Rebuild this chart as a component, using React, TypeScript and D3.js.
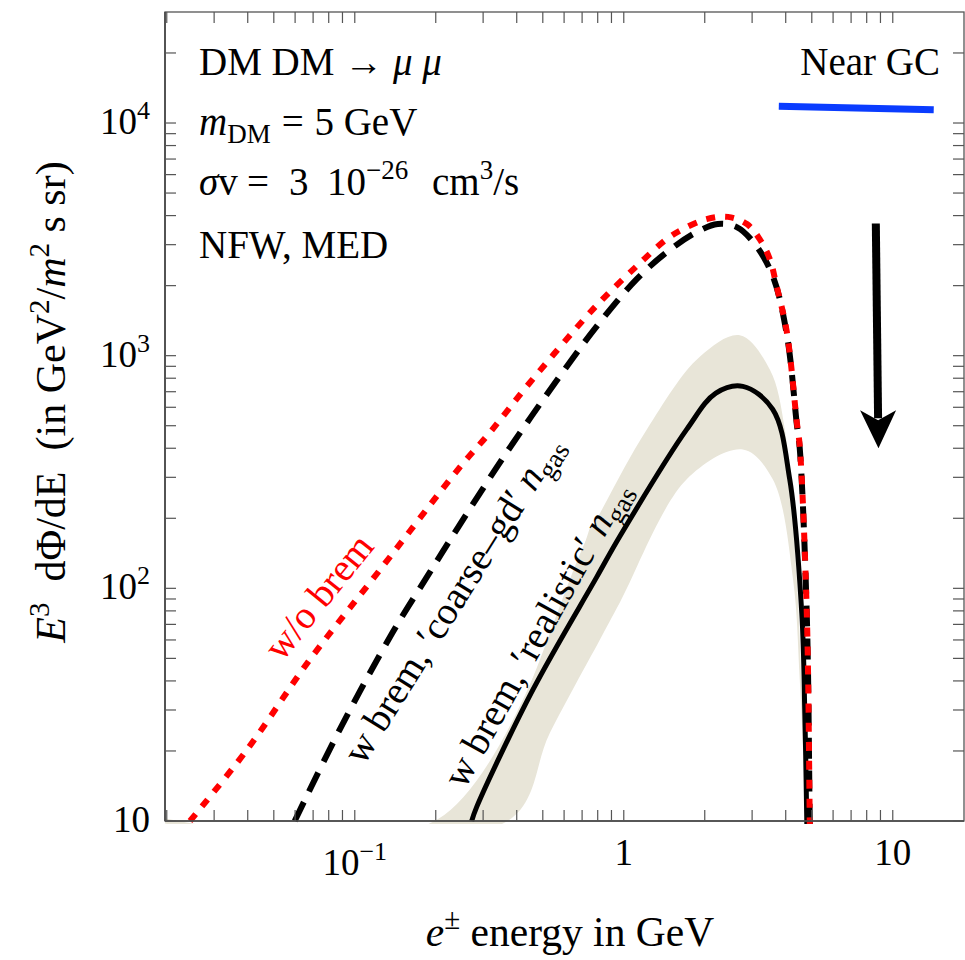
import React from "react";
import * as d3 from "d3";

// ---- chart data ----
const xDomain = [0.0197, 18.4];
const yDomain = [10, 30000];

const xLabelTicks = [0.1, 1, 10];
const xLabelText = [["10", "−1"], ["1", ""], ["10", ""]];
const yLabelTicks = [10, 100, 1000, 10000];
const yLabelText = [["10", ""], ["10", "2"], ["10", "3"], ["10", "4"]];

// w/o bremsstrahlung (red dotted)
const woBremE = [0.0244, 0.0397, 0.068, 0.124, 0.2455, 0.318, 0.448, 0.729, 0.835, 1.117, 1.445, 1.66, 2.03, 2.44, 2.87, 3.2, 3.49, 3.7, 4.04, 4.4, 4.51, 4.79, 4.91, 4.97];
const woBremV = [10, 20.2, 49.3, 120, 331, 468, 767, 1480, 1750, 2427, 3170, 3500, 3860, 3950, 3680, 3170, 2600, 1990, 1260, 516, 408, 78.5, 10.8, 3];

// with brem, coarse-grained gas (black dashed)
const coarseE = [0.0598, 0.0879, 0.138, 0.19, 0.2415, 0.367, 0.614, 0.814, 1.117, 1.445, 1.87, 2.235, 2.63, 3.07, 3.58, 4.04, 4.4, 4.51, 4.79, 4.91, 4.97];
const coarseV = [10, 24.7, 64.4, 117, 182, 384, 899, 1390, 2133, 2786, 3400, 3680, 3570, 3020, 2200, 1230, 505, 400, 77, 10.5, 3];

// with brem, realistic gas (black solid)
const realE = [0.272, 0.284, 0.459, 0.794, 0.966, 1.714, 2.2, 2.77, 3.58, 4.14, 4.59, 4.71, 4.79, 4.82];
const realV = [10, 11.5, 36.6, 112, 167, 482, 690, 738, 588, 294, 78, 29, 10, 5];

// uncertainty band around the realistic curve
const bandUpE = [0.0197, 0.207, 0.767, 1.218, 1.917, 2.7, 3.49, 3.97, 4.4, 4.6, 4.79, 4.82];
const bandUpV = [10, 10, 184, 482, 990, 1225, 873, 482, 109, 33, 10, 5];
const bandLoE = [0.0197, 0.37, 0.531, 0.814, 0.966, 1.714, 2.77, 3.58, 4.26, 4.51, 4.75, 4.8];
const bandLoV = [10, 10, 23.9, 60, 86.7, 294, 395, 294, 109, 40.5, 10, 5];

// "Near GC" reference segment
const nearGcE = [3.77, 14.2];
const nearGcV = [11800, 11400];

// downward arrow
const arrowE = [8.65, 8.85];
const arrowV = [3700, 400];

const W = 965;
const H = 960;
const M = { left: 165, right: 964, top: 12, bottom: 821 };
const SERIF = "'Liberation Serif', 'Times New Roman', Times, serif";

const pts = (E: number[], V: number[]) => E.map((e, i) => [e, V[i]] as [number, number]);

export default function App() {
  const x = d3.scaleLog().domain(xDomain).range([M.left, M.right]);
  const y = d3.scaleLog().domain(yDomain).range([M.bottom, M.top]);

  const smooth = d3.curveCatmullRom.alpha(0.5);
  const line = d3
    .line<[number, number]>()
    .x((d) => x(d[0]))
    .y((d) => y(d[1]))
    .curve(smooth);
  const area = d3
    .area<[number, number]>()
    .x((d) => x(d[0]))
    .y0(M.bottom + 3)
    .y1((d) => y(d[1]))
    .curve(smooth);

  // ticks at 1..9 per decade inside the domain
  const logTicks = (lo: number, hi: number) => {
    const out: number[] = [];
    for (let k = Math.floor(Math.log10(lo)); k <= Math.ceil(Math.log10(hi)); k++) {
      for (let m = 1; m <= 9; m++) {
        const v = m * Math.pow(10, k);
        if (v >= lo * 1.0001 && v <= hi * 0.9999) out.push(v);
      }
    }
    return out;
  };
  const xt = logTicks(xDomain[0], xDomain[1]);
  const yt = logTicks(yDomain[0], yDomain[1]).concat([10]);
  const TL = 11;
  const tickColor = "#555";

  // arrow geometry
  const ax0 = x(arrowE[0]);
  const ay0 = y(arrowV[0]);
  const ax1 = x(arrowE[1]);
  const ay1 = y(arrowV[1]);
  const headLen = 34;
  const headHalf = 18;
  const bx = ax1 + (ax0 - ax1) * (headLen / Math.hypot(ax0 - ax1, ay0 - ay1));
  const by = ay1 - headLen;

  const labelAt = (E: number, V: number, ang: number) =>
    `translate(${x(E)},${y(V)}) rotate(${ang})`;

  return (
    <svg
      width={W}
      height={H}
      style={{ position: "absolute", left: 0, top: 0, background: "#fff" }}
      fontFamily={SERIF}
    >
      <defs>
        <clipPath id="plotClip">
          <rect x={M.left} y={M.top} width={M.right - M.left} height={M.bottom - M.top + 3} />
        </clipPath>
      </defs>

      <g clipPath="url(#plotClip)">
        {/* band */}
        <path d={area(pts(bandUpE, bandUpV)) || ""} fill="#e8e5d8" />
        <path d={area(pts(bandLoE, bandLoV)) || ""} fill="#fff" />
        <path
          d={line(pts(bandUpE.slice(0, 3), bandUpV.slice(0, 3))) || ""}
          fill="none"
          stroke="#e8e5d8"
          strokeWidth={5}
        />
        {/* curves */}
        <path d={line(pts(realE, realV)) || ""} fill="none" stroke="#000" strokeWidth={5} />
        <path
          d={line(pts(coarseE, coarseV)) || ""}
          fill="none"
          stroke="#000"
          strokeWidth={6}
          strokeDasharray="21 12"
        />
        <path
          d={line(pts(woBremE, woBremV)) || ""}
          fill="none"
          stroke="#ff0000"
          strokeWidth={6}
          strokeDasharray="9 10"
        />
        {/* Near GC segment */}
        <path
          d={d3.line()(pts(nearGcE, nearGcV).map((d) => [x(d[0]), y(d[1])])) || ""}
          stroke="#0a3cff"
          strokeWidth={7}
          fill="none"
        />
        {/* arrow */}
        <line x1={ax0} y1={ay0} x2={bx} y2={by + 4} stroke="#000" strokeWidth={8} />
        <path
          d={`M${ax1},${ay1} L${bx - headHalf},${by - 4} L${bx},${by + 6} L${bx + headHalf},${by - 4} Z`}
          fill="#000"
        />
      </g>

      {/* frame */}
      <rect
        x={M.left}
        y={M.top}
        width={M.right - M.left}
        height={M.bottom - M.top}
        fill="none"
        stroke="#555"
        strokeWidth={1.3}
      />
      <line x1={M.left} x2={M.right} y1={M.bottom} y2={M.bottom} stroke="#444" strokeWidth={1.6} />
      <line x1={M.left} x2={M.left} y1={M.top} y2={M.bottom} stroke="#444" strokeWidth={1.6} />

      {/* ticks */}
      {xt.map((v, i) => (
        <g key={"xt" + i} stroke={tickColor} strokeWidth={1.2}>
          <line x1={x(v)} x2={x(v)} y1={M.bottom} y2={M.bottom - TL} />
          <line x1={x(v)} x2={x(v)} y1={M.top} y2={M.top + TL} />
        </g>
      ))}
      {yt.map((v, i) => (
        <g key={"yt" + i} stroke={tickColor} strokeWidth={1.2}>
          <line x1={M.left} x2={M.left + TL} y1={y(v)} y2={y(v)} />
          <line x1={M.right} x2={M.right - TL} y1={y(v)} y2={y(v)} />
        </g>
      ))}

      {/* tick labels */}
      {xLabelTicks.map((v, i) => (
        <text
          key={"xl" + i}
          x={x(v)}
          y={xLabelText[i][1] ? 875 : 865}
          textAnchor="middle"
          fontSize={37}
        >
          {xLabelText[i][0]}
          {xLabelText[i][1] && (
            <tspan fontSize={26} dy={-15}>
              {xLabelText[i][1]}
            </tspan>
          )}
        </text>
      ))}
      {yLabelTicks.map((v, i) => (
        <text key={"yl" + i} x={150} y={y(v) + 11} textAnchor="end" fontSize={37}>
          {yLabelText[i][0]}
          {yLabelText[i][1] && (
            <tspan fontSize={26} dy={-15}>
              {yLabelText[i][1]}
            </tspan>
          )}
        </text>
      ))}

      {/* axis titles */}
      <text x={570} y={946} textAnchor="middle" fontSize={41.5} xmlSpace="preserve">
        <tspan fontStyle="italic">e</tspan>
        <tspan fontSize={29} dy={-17}>±</tspan>
        <tspan dy={17}> energy in GeV</tspan>
      </text>
      <text
        transform="translate(65,402) rotate(-90)"
        textAnchor="middle"
        fontSize={42}
        xmlSpace="preserve"
      >
        <tspan fontStyle="italic">E</tspan>
        <tspan fontSize={29} dy={-16}>3</tspan>
        <tspan dy={16}>{"  dΦ/dE  (in GeV"}</tspan>
        <tspan fontSize={29} dy={-16}>2</tspan>
        <tspan dy={16}>/</tspan>
        <tspan fontStyle="italic">m</tspan>
        <tspan fontSize={29} dy={-16}>2</tspan>
        <tspan dy={16}>{" s sr)"}</tspan>
      </text>

      {/* annotations */}
      <g fontSize={39}>
        <text x={199} y={75} xmlSpace="preserve">
          {"DM DM → "}
          <tspan fontStyle="italic">μ</tspan>
          {" "}
          <tspan fontStyle="italic">μ</tspan>
        </text>
        <text x={199} y={135} xmlSpace="preserve">
          <tspan fontStyle="italic">m</tspan>
          <tspan fontSize={27} dy={8}>DM</tspan>
          <tspan dy={-8} dx={11}>=</tspan>
          <tspan dx={1}>{" 5 GeV"}</tspan>
        </text>
        <text x={199} y={195} xmlSpace="preserve">
          <tspan fontStyle="italic">σ</tspan>
          <tspan>v</tspan>
          <tspan x={247}>=</tspan>
          <tspan x={289}>3</tspan>
          <tspan x={327}>10</tspan>
          <tspan fontSize={27} dy={-16}>−26</tspan>
          <tspan x={432} dy={16}>cm</tspan>
          <tspan fontSize={27} dy={-16}>3</tspan>
          <tspan dy={16}>/s</tspan>
        </text>
        <text x={199} y={258}>NFW, MED</text>
        <text x={940} y={75} textAnchor="end">Near GC</text>
      </g>

      {/* curve labels */}
      <g fontSize={39} textAnchor="middle">
        <text transform={labelAt(0.08, 85, -51)} fill="#ff0000">w/o brem</text>
        <text transform={labelAt(0.254, 84, -58)} xmlSpace="preserve">
          {"w brem, ′coarse–gd′ "}
          <tspan fontStyle="italic">n</tspan>
          <tspan fontSize={27} dy={8}>gas</tspan>
        </text>
        <text transform={labelAt(0.522, 60, -61)} xmlSpace="preserve">
          {"w brem, ′realistic′ "}
          <tspan fontStyle="italic">n</tspan>
          <tspan fontSize={27} dy={8}>gas</tspan>
        </text>
      </g>
    </svg>
  );
}
